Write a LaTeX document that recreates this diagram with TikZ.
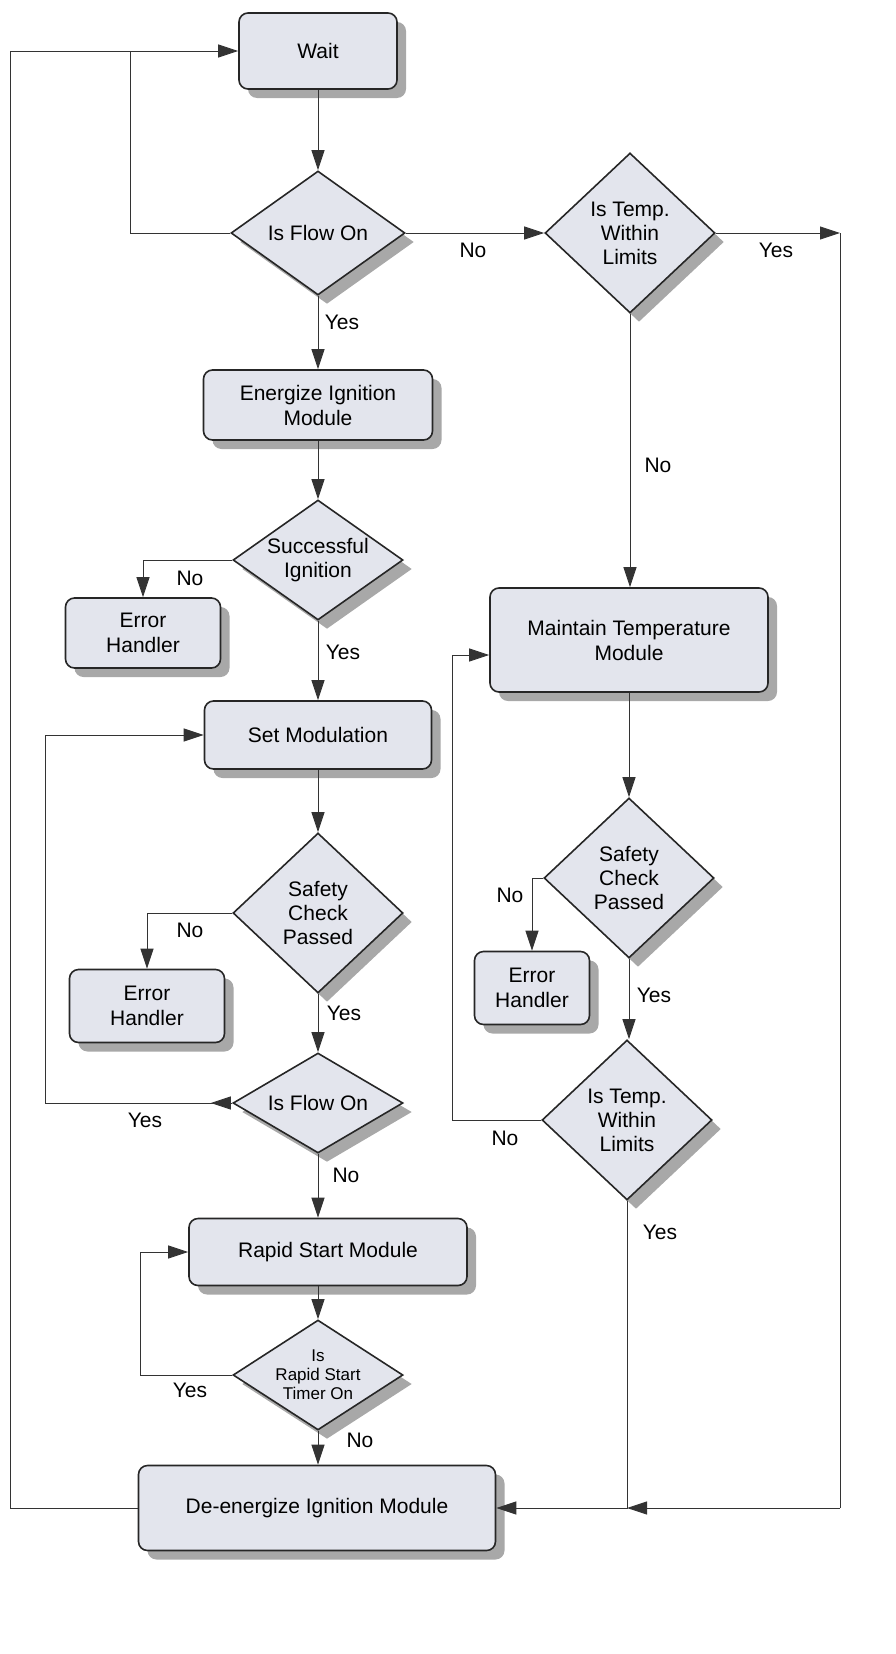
\documentclass[tikz,border=0pt]{standalone}
\usepackage{fontspec}
\setmainfont{Liberation Sans}
\usetikzlibrary{shapes.geometric,shadows,arrows.meta,decorations.markings}
\definecolor{boxfill}{HTML}{E3E5ED}
\definecolor{shade}{HTML}{A8A8A8}
\begin{document}
\begin{tikzpicture}[x=1pt,y=-1pt,
  sh/.style={drop shadow={shadow xshift=9pt,shadow yshift=-9pt,fill=shade,opacity=1}},
  box/.style={draw=black!85,line width=1.6pt,fill=boxfill,rounded corners=9pt,sh,align=center,inner sep=0pt,font=\fontsize{21}{25}\selectfont},
  dia/.style={diamond,draw=black!85,line width=1.6pt,fill=boxfill,sh,inner sep=0pt},
  ln/.style={draw=black!80,line width=0.9pt},
  ar/.style={ln,-{Triangle[length=20pt,width=13pt]}},
  lab/.style={font=\fontsize{21}{24}\selectfont},
  midar/.style={ln,postaction={decorate},decoration={markings,mark=at position #1 with {\arrow{Triangle[length=20pt,width=13pt]}}}}
]
\useasboundingbox (0,0) rectangle (895,1654);
% nodes
\node[box,minimum width=158pt,minimum height=76pt] (wait) at (318,51) {Wait};
\node[dia,minimum width=174pt,minimum height=124pt,label={[lab]center:Is Flow On}] (flow1) at (318,233) {};
\node[dia,minimum width=170pt,minimum height=160pt,label={[lab,align=center]center:Is Temp.\\Within\\Limits}] (temp1) at (630,233) {};
\node[box,minimum width=229pt,minimum height=70pt] (energ) at (318,405) {Energize Ignition\\Module};
\node[dia,minimum width=170pt,minimum height=120pt,label={[lab,align=center]center:Successful\\Ignition}] (succ) at (318,560) {};
\node[box,minimum width=155pt,minimum height=70pt] (err1) at (143,633) {Error\\Handler};
\node[box,minimum width=227pt,minimum height=68pt] (setmod) at (318,735) {Set Modulation};
\node[dia,minimum width=170pt,minimum height=160pt,label={[lab,align=center]center:Safety\\Check\\Passed}] (safe1) at (318,913) {};
\node[box,minimum width=155pt,minimum height=73pt] (err2) at (147,1006) {Error\\Handler};
\node[dia,minimum width=170pt,minimum height=100pt,label={[lab]center:Is Flow On}] (flow2) at (318,1103) {};
\node[box,minimum width=278pt,minimum height=67pt] (rapid) at (328,1252) {Rapid Start Module};
\node[dia,minimum width=170pt,minimum height=110pt,label={[font=\fontsize{17}{19}\selectfont,align=center]center:Is\\Rapid Start\\Timer On}] (timer) at (318,1375) {};
\node[box,minimum width=357pt,minimum height=85pt] (deen) at (317,1508) {De-energize Ignition Module};
\node[box,minimum width=278pt,minimum height=104pt] (maint) at (629,640) {Maintain Temperature\\Module};
\node[dia,minimum width=170pt,minimum height=160pt,label={[lab,align=center]center:Safety\\Check\\Passed}] (safe2) at (629,878) {};
\node[box,minimum width=115pt,minimum height=73pt] (err3) at (532,988) {Error\\Handler};
\node[dia,minimum width=170pt,minimum height=160pt,label={[lab,align=center]center:Is Temp.\\Within\\Limits}] (temp2) at (627,1120) {};
% coordinates
\coordinate (c1) at (130,233);
\coordinate (c2) at (130,51);
\coordinate (c3) at (10,1508);
\coordinate (c4) at (10,51);
\coordinate (r1) at (840,233);
\coordinate (r2) at (840,1508);
\coordinate (j1) at (627,1508);
% connectors
\draw[ar] (wait) -- (flow1);
\draw[ln] (flow1.west) -- (c1) -- (c2);
\draw[ar] (deen.west) -- (c3) -- (c4) -- (wait.west);
\draw[ar] (flow1.east) -- (temp1.west);
\draw[ar] (flow1.south) -- (energ);
\draw[ar] (energ) -- (succ);
\draw[ar] (succ.west) -| (err1.north);
\draw[ar] (succ.south) -- (setmod);
\draw[ar] (setmod) -- (safe1);
\draw[ar] (safe1.west) -| (err2.north);
\draw[ar] (safe1.south) -- (flow2);
\draw[midar=0.03,-{Triangle[length=20pt,width=13pt]}] (flow2.west) -| (45,735) -- (setmod.west);
\draw[ar] (flow2.south) -- (rapid.north -| flow2.south);
\draw[ar] (rapid.south -| timer.north) -- (timer.north);
\draw[ar] (timer.west) -| (140,1252) -- (rapid.west);
\draw[ar] (timer.south) -- (deen.north -| timer.south);
\draw[ar] (temp1.east) -- (r1);
\draw[ln] (r1) -- (r2);
\draw[ar] (r2) -- (j1);
\draw[ar] (temp2.south) -- (j1) -- (deen.east);
\draw[ar] (temp1.south) -- (maint.north -| temp1.south);
\draw[ar] (maint.south -| safe2.north) -- (safe2.north);
\draw[ar] (safe2.west) -| (err3.north);
\draw[ar] (safe2.south) -- (temp2.north -| safe2.south);
\draw[ar] (temp2.west) -| (452,655) -- (maint.west |- 0,655);
% labels
\node[lab] (l1) at (473,250) {No};
\node[lab] (l2) at (776,250) {Yes};
\node[lab] (l3) at (342,322) {Yes};
\node[lab] (l4) at (190,578) {No};
\node[lab] (l5) at (343,652) {Yes};
\node[lab] (l6) at (190,930) {No};
\node[lab] (l7) at (344,1013) {Yes};
\node[lab] (l8) at (145,1120) {Yes};
\node[lab] (l9) at (346,1175) {No};
\node[lab] (l10) at (190,1390) {Yes};
\node[lab] (l11) at (360,1440) {No};
\node[lab] (l12) at (658,465) {No};
\node[lab] (l13) at (510,895) {No};
\node[lab] (l14) at (654,995) {Yes};
\node[lab] (l15) at (505,1138) {No};
\node[lab] (l16) at (660,1232) {Yes};
\end{tikzpicture}
\end{document}
